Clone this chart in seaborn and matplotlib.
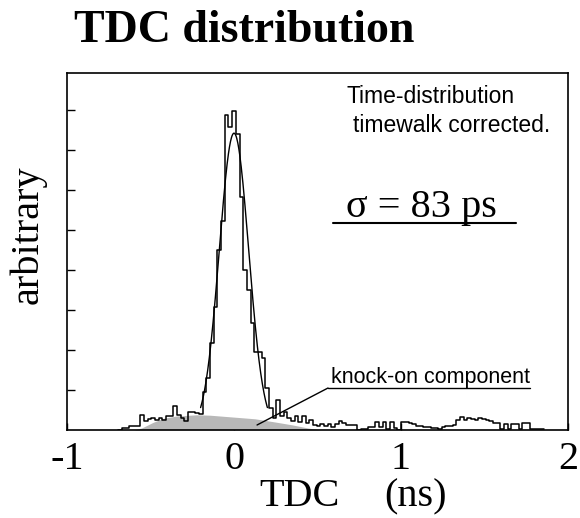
import numpy as np
import pandas as pd
import matplotlib
matplotlib.use("Agg")
import matplotlib.pyplot as plt
import seaborn as sns

# ---------------- data ----------------
bin_width = 0.022          # ns
first_bin = -31            # index of first bin (centre = index * bin_width)
counts = [
    # k = -31 .. -1
    0.0, 0.04, 0.04, 0.10, 0.10, 0.10, 0.38, 0.23, 0.27, 0.30,
    0.25, 0.30, 0.25, 0.34, 0.34, 0.59, 0.38, 0.30, 0.23, 0.46,
    0.45, 0.43, 0.41, 0.95, 1.30, 2.17, 3.08, 4.50, 5.22, 7.87,
    7.58,
    # k = 0 .. 9
    7.98, 7.40, 5.83, 4.00, 3.50, 2.67, 1.96, 1.95, 1.80, 1.05,
    # k = 10 .. 84
    0.55, 0.30, 0.76, 0.35, 0.46, 0.30, 0.22, 0.35, 0.20, 0.35,
    0.18, 0.25, 0.12, 0.10, 0.16, 0.10, 0.16, 0.08, 0.15, 0.23,
    0.17, 0.12, 0.12, 0.12, 0.00, 0.03, 0.03, 0.08, 0.07, 0.20,
    0.08, 0.20, 0.03, 0.20, 0.04, 0.00, 0.20, 0.20, 0.18, 0.15,
    0.10, 0.10, 0.07, 0.07, 0.04, 0.04, 0.02, 0.08, 0.10, 0.10,
    0.12, 0.25, 0.33, 0.25, 0.30, 0.27, 0.25, 0.29, 0.27, 0.25,
    0.22, 0.17, 0.17, 0.02, 0.15, 0.02, 0.15, 0.15, 0.02, 0.18,
    0.18, 0.02, 0.02, 0.02, 0.02,
]

# Gaussian fit
fit_amp = 7.42
fit_mean = 0.0
fit_sigma = 0.088
fit_range = (-0.20, 0.20)

# knock-on component (gray area)
knock_x = [-0.60, -0.553, -0.485, -0.425, -0.343, -0.223, -0.144, -0.054, 0.126, 0.246, 0.346, 0.443, 0.52]
knock_y = [0.00, 0.05, 0.19, 0.29, 0.35, 0.38, 0.37, 0.34, 0.28, 0.20, 0.13, 0.05, 0.00]

x_ticks = [-1, 0, 1, 2]
x_tick_labels = ["-1", "0", "1", "2"]
y_ticks = [1, 2, 3, 4, 5, 6, 7, 8]

# ---------------- plot ----------------
sns.set_style("white")
plt.rcParams["font.family"] = ["Liberation Serif", "DejaVu Serif"]
plt.rcParams["text.color"] = "black"

fig = plt.figure(figsize=(5.8, 5.18), dpi=100)
ax = fig.add_axes([67 / 580, 1 - 430 / 518, (568 - 67) / 580, (430 - 73) / 518])

idx = np.arange(first_bin, first_bin + len(counts))
centers = idx * bin_width
lo = centers[0] - bin_width / 2
hi = centers[-1] + bin_width / 2
df = pd.DataFrame({"tdc": centers, "w": counts})

# knock-on gray component
ax.fill_between(knock_x, 0, knock_y, color="#b8b8b8", lw=0, zorder=1)

# histogram
sns.histplot(data=df, x="tdc", weights="w", binwidth=bin_width, binrange=(lo, hi),
             element="step", fill=False, color="black", linewidth=1.1, ax=ax, zorder=3)

# gaussian fit
gx = np.linspace(fit_range[0], fit_range[1], 200)
gy = fit_amp * np.exp(-0.5 * ((gx - fit_mean) / fit_sigma) ** 2)
sns.lineplot(x=gx, y=gy, color="black", linewidth=1.0, ax=ax, zorder=4)

ax.set_xlim(-1, 2)
ax.set_ylim(0, 8.925)
ax.set_xticks(x_ticks)
ax.set_xticklabels(x_tick_labels, fontsize=29, color="black")
ax.set_yticks(y_ticks)
ax.set_yticklabels([])
ax.tick_params(axis="x", direction="in", length=5, width=1, pad=8, colors="black", bottom=True)
ax.tick_params(axis="y", direction="in", length=6, width=1, left=True, colors="black")
for s in ax.spines.values():
    s.set_color("black")
    s.set_linewidth(1.2)

ax.set_ylabel("")
ax.set_xlabel("")

# labels
fig.text(28 / 580, 1 - 235 / 518, "arbitrary", rotation=90, fontsize=29,
         ha="center", va="center")
fig.text(299 / 580, 1 - 506 / 518, "TDC", fontsize=29, ha="center", va="baseline")
fig.text(416 / 580, 1 - 506 / 518, "(ns)", fontsize=29, ha="center", va="baseline")
fig.text(74 / 580, 1 - 42 / 518, "TDC distribution", fontsize=33, fontweight="bold",
         ha="left", va="baseline")

sans = ["Liberation Sans", "DejaVu Sans"]
ax.text(0.671, 8.33, "Time-distribution", family=sans, fontsize=16.5, ha="left", va="center")
ax.text(0.713, 7.62, "timewalk corrected.", family=sans, fontsize=16.5, ha="left", va="center")

ax.text(1.12, 5.32, "σ = 83 ps", fontsize=29, ha="center", va="baseline")
ax.plot([0.593, 1.689], [5.18, 5.18], color="black", lw=1.5)

ax.text(0.58, 1.175, "knock-on component", family=sans, fontsize=15.5, ha="left", va="baseline")
ax.plot([0.563, 1.772], [1.05, 1.05], color="black", lw=1.0)
ax.plot([0.563, 0.138], [1.05, 0.125], color="black", lw=1.0)

fig.savefig("out.png", dpi=100, facecolor="white")
